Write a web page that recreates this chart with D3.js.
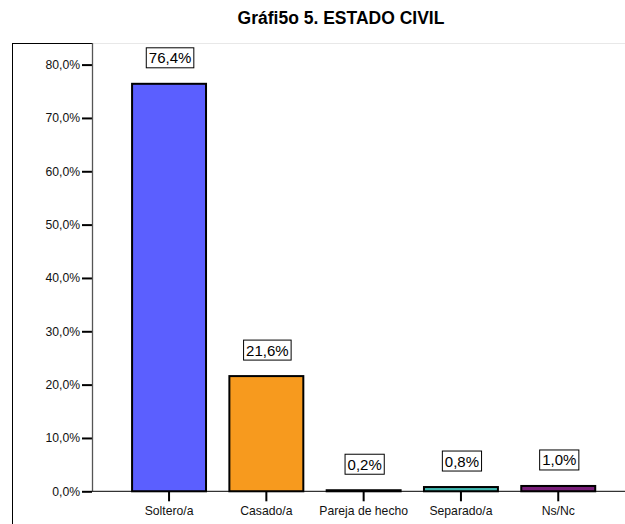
<!DOCTYPE html>
<html>
<head>
<meta charset="utf-8">
<script src="https://cdn.jsdelivr.net/npm/d3@7"></script>
<style>
	body { margin: 0; background: #fff; }
	svg { display: block; font-family: "Liberation Sans", Arial, sans-serif; }
</style>
</head>
<body>
<div id="chart"></div>
<script>
var title = "Gráfi5o 5. ESTADO CIVIL";
var categories = ["Soltero/a", "Casado/a", "Pareja de hecho", "Separado/a", "Ns/Nc"];
var values = [76.4, 21.6, 0.2, 0.8, 1.0];
var colors = ["#5b5fff", "#f79a1e", "#404040", "#3fb8b0", "#7a1f7a"];
var yTicks = [0, 10, 20, 30, 40, 50, 60, 70, 80];

var W = 625, H = 524;
var fmt = function(v) { return d3.format(".1f")(v).replace(".", ",") + "%"; };

var svg = d3.select("#chart")
	.append("svg")
		.attr("width", W)
		.attr("height", H);

// outer frame (left + top)
svg.append("line").attr("x1", 12.5).attr("x2", 12.5).attr("y1", 43).attr("y2", H).attr("stroke", "#000");
svg.append("line").attr("x1", 12).attr("x2", 92).attr("y1", 43.5).attr("y2", 43.5).attr("stroke", "#000");
svg.append("line").attr("x1", 92).attr("x2", W).attr("y1", 43.5).attr("y2", 43.5).attr("stroke", "#e8e8e8");

svg.append("text")
	.attr("x", 341).attr("y", 24)
	.attr("text-anchor", "middle")
	.attr("font-size", 17.5)
	.attr("font-weight", "bold")
	.text(title);

var y = d3.scaleLinear().domain([0, 80]).range([491.3, 64.6]);
var x = d3.scaleBand().domain(categories).range([120.4, 606.9]).paddingInner(0.24).paddingOuter(0.12);

// y axis
var yAxis = d3.axisLeft(y).tickValues(yTicks).tickSize(10).tickPadding(2).tickFormat(fmt);
var gy = svg.append("g").attr("transform", "translate(92,0)").call(yAxis);
gy.select(".domain").remove();
gy.selectAll(".tick line").attr("stroke", "#000").attr("stroke-width", 2);
gy.selectAll(".tick text").attr("font-size", 12.2).attr("fill", "#111").attr("font-family", "Liberation Sans, Arial, sans-serif");
svg.append("line").attr("x1", 92.5).attr("x2", 92.5).attr("y1", 43).attr("y2", 491).attr("stroke", "#555").attr("stroke-width", 1.3);

// bars
svg.selectAll(".bar")
	.data(values)
	.enter()
	.append("rect")
		.attr("class", "bar")
		.attr("x", function(d, i) { return x(categories[i]); })
		.attr("y", function(d) { return y(d); })
		.attr("width", x.bandwidth())
		.attr("height", function(d) { return y(0) - y(d); })
		.attr("fill", function(d, i) { return colors[i]; })
		.attr("stroke", "#000")
		.attr("stroke-width", 2);

// x axis
var xAxis = d3.axisBottom(x).tickSize(10).tickPadding(5);
var gx = svg.append("g").attr("transform", "translate(0,491.3)").call(xAxis);
gx.select(".domain").remove();
gx.selectAll(".tick line").attr("stroke", "#000").attr("stroke-width", 2);
gx.selectAll(".tick text").attr("font-size", 12.2).attr("fill", "#111").attr("font-family", "Liberation Sans, Arial, sans-serif");
svg.append("line").attr("x1", 92).attr("x2", W).attr("y1", 491.3).attr("y2", 491.3).attr("stroke", "#000");

// value labels (boxed)
var lab = svg.selectAll(".lab")
	.data(values)
	.enter()
	.append("g")
		.attr("class", "lab")
		.attr("transform", function(d, i) {
			return "translate(" + (x(categories[i]) + x.bandwidth() / 2 + 1) + "," + (y(d) - 16) + ")";
		});
var box = lab.append("rect")
	.attr("y", -20)
	.attr("height", 20)
	.attr("fill", "#fff")
	.attr("stroke", "#000");
var txt = lab.append("text")
	.attr("y", -4.5)
	.attr("text-anchor", "middle")
	.attr("font-size", 15)
	.text(fmt);
txt.each(function(d, i) {
	var w = this.getComputedTextLength() + 5;
	d3.select(box.nodes()[i]).attr("x", -w / 2).attr("width", w);
});
</script>
</body>
</html>
